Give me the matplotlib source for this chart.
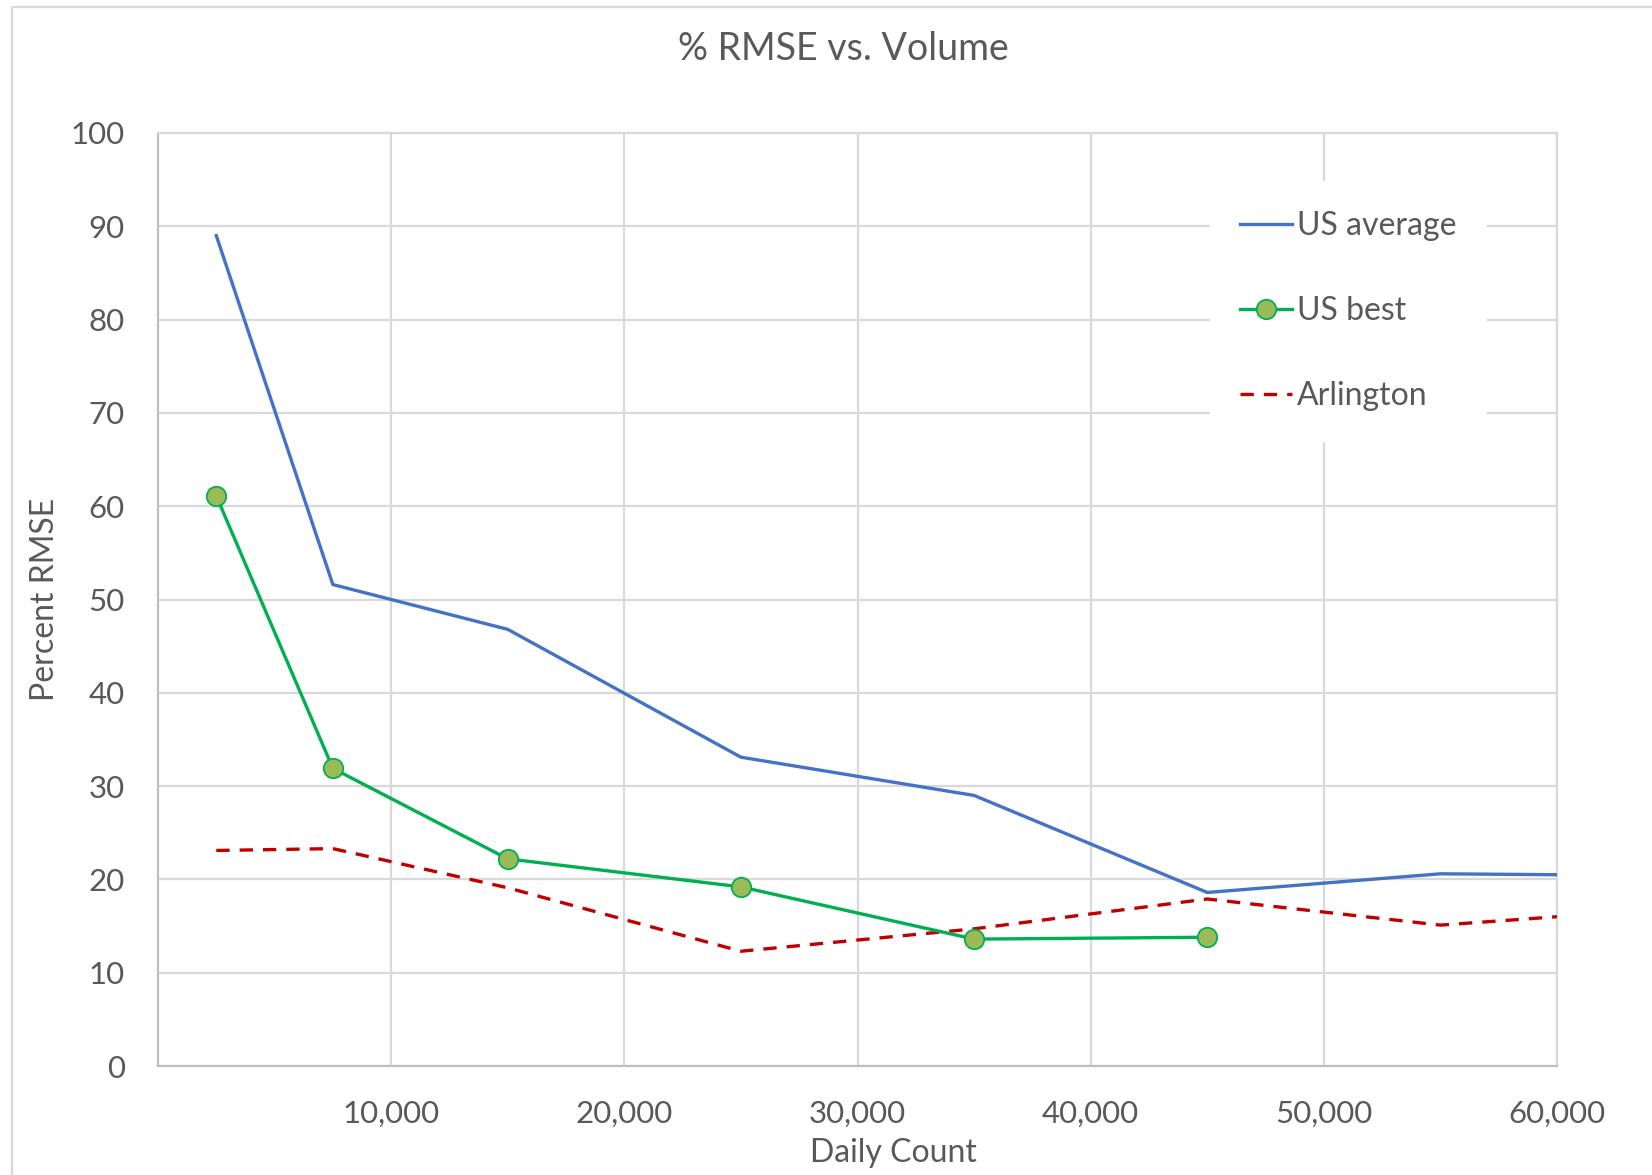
import matplotlib
matplotlib.use("Agg")
import matplotlib.pyplot as plt
from matplotlib.patches import Rectangle
from matplotlib.ticker import FuncFormatter

# ---- data ----
daily_count = [2500, 7500, 15000, 25000, 35000, 45000, 55000, 60000]
us_average = [89.0, 51.6, 46.8, 33.1, 29.0, 18.6, 20.6, 20.5]
us_best_count = [2500, 7500, 15000, 25000, 35000, 45000]
us_best = [61.1, 31.9, 22.2, 19.2, 13.6, 13.8]
arlington = [23.1, 23.3, 19.1, 12.3, 14.7, 17.9, 15.1, 16.0]
x_ticks = [10000, 20000, 30000, 40000, 50000, 60000]
y_ticks = [0, 10, 20, 30, 40, 50, 60, 70, 80, 90, 100]

TXT = "#595959"
GRID = "#D9D9D9"
plt.rcParams['font.family'] = ['Lato', 'DejaVu Sans']

W, H = 1652, 1175
fig = plt.figure(figsize=(W / 100, H / 100), dpi=100)
fig.patch.set_facecolor("white")

L, R, T, B = 158, 1557, 133, 1066
ax = fig.add_axes([L / W, 1 - B / H, (R - L) / W, (B - T) / H])

# outer chart border (cropped at right/bottom)
fig.add_artist(Rectangle((12 / W, -0.1), 1.2, 1 - 7 / H + 0.1,
                         transform=fig.transFigure, fill=False,
                         edgecolor="#D9D9D9", lw=1.6, zorder=0))

ax.plot(daily_count, us_average, color="#4472C4", lw=2.4, label="US average",
        zorder=3, solid_joinstyle="round")
ax.plot(us_best_count, us_best, color="#00B050", lw=2.4, marker="o",
        markersize=14, markerfacecolor="#9BBB59", markeredgecolor="#00B050",
        markeredgewidth=1.3, label="US best", zorder=4)
ax.plot(daily_count, arlington, color="#C00000", lw=2.4, dashes=(4, 3),
        label="Arlington", zorder=3)

ax.set_xlim(0, 60000)
ax.set_ylim(0, 100)
ax.set_xticks(x_ticks)
ax.set_yticks(y_ticks)
ax.xaxis.set_major_formatter(FuncFormatter(lambda v, p: f"{int(v):,}"))
ax.grid(True, color=GRID, lw=1.6, zorder=0)
ax.set_axisbelow(True)
ax.tick_params(axis="both", length=0, labelsize=22.5, colors=TXT)
ax.tick_params(axis="x", pad=24)
ax.tick_params(axis="y", pad=24)

for s in ["top", "right"]:
    ax.spines[s].set_color(GRID)
    ax.spines[s].set_linewidth(1.6)
for s in ["left", "bottom"]:
    ax.spines[s].set_color("#BFBFBF")
    ax.spines[s].set_linewidth(1.6)

ax.set_xlabel("Daily Count", fontsize=23, color=TXT)
ax.xaxis.set_label_coords((893 - L) / (R - L), (B - 1153) / (B - T))
ax.xaxis.label.set_va("center")
ax.set_ylabel("Percent RMSE", fontsize=23, color=TXT)
ax.yaxis.set_label_coords((45 - L) / (R - L), 0.5)
ax.yaxis.label.set_va("center")

fig.text(843 / W, 1 - 48.5 / H, "% RMSE vs. Volume", fontsize=27, color=TXT,
         ha="center", va="center")

leg = ax.legend(loc="upper left", bbox_to_anchor=(1210 / W, 1 - 181 / H),
                bbox_transform=fig.transFigure, borderaxespad=0,
                fontsize=23, frameon=True, fancybox=False, facecolor="white",
                edgecolor="none", framealpha=1, borderpad=0.95,
                labelspacing=1.72, handlelength=1.62, handletextpad=0.15)
for t in leg.get_texts():
    t.set_color(TXT)
leg.set_zorder(5)

fig.savefig("out.png", dpi=100, facecolor="white")
